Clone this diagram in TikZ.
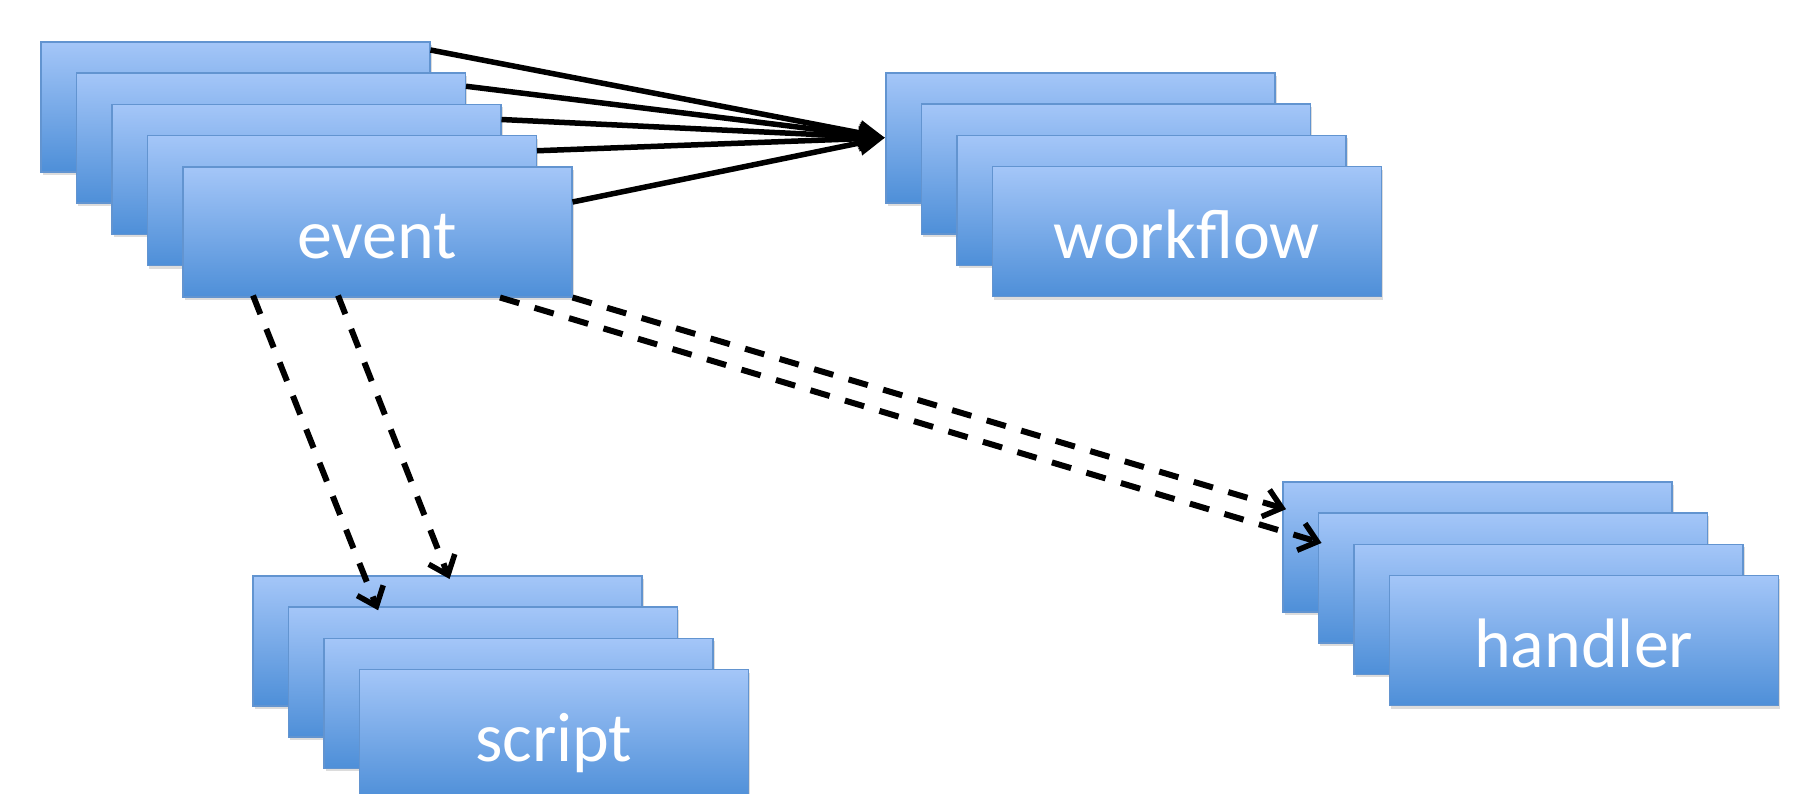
\documentclass[tikz,border=0pt]{standalone}
\usepackage{fontspec}
\setmainfont{Carlito}
\usetikzlibrary{arrows.meta,calc,shadows,decorations.markings}

\definecolor{boxtop}{RGB}{164,198,248}
\definecolor{boxbot}{RGB}{78,143,216}
\definecolor{boxline}{RGB}{98,148,208}

\tikzset{
  card/.style={draw=boxline, line width=1.5pt, top color=boxtop, bottom color=boxbot,
    minimum width=389pt, minimum height=130pt, inner sep=0pt, anchor=north west,
    text=white, font=\fontsize{70}{84}\selectfont, text height=53pt, text depth=0pt,
    drop shadow={shadow xshift=2pt, shadow yshift=-3pt, opacity=0.28}},
  feed/.style={line width=5.5pt, -{Triangle[length=26pt,width=24pt]}},
  % dashed connector with a solid open V head at its end
  call/.style={line width=6pt, dash pattern=on 20pt off 16pt,
    postaction={decorate, decoration={markings, mark=at position 1 with {
      \draw[solid, line width=5.5pt, line join=miter]
        (-17pt,-14pt) -- (0pt,0pt) -- (-17pt,14pt);}}}}
}

\begin{document}
\begin{tikzpicture}[x=1pt, y=-1pt]
\useasboundingbox (0,0) rectangle (1795,793);

% event stack
\node[card] (e1) at (40,41) {};
\node[card] (e2) at (75.5,72.25) {};
\node[card] (e3) at (111,103.5) {};
\node[card] (e4) at (146.5,134.75) {};
\node[card] (e5) at (182,166) {event};

% workflow stack
\node[card] (w1) at (885,72) {};
\node[card] (w2) at (920.5,103.25) {};
\node[card] (w3) at (956,134.5) {};
\node[card] (w4) at (991.5,165.75) {workflow};

% script stack
\node[card] (s1) at (252,575) {};
\node[card] (s2) at (287.5,606.25) {};
\node[card] (s3) at (323,637.5) {};
\node[card] (s4) at (358.5,668.75) {script};

% handler stack
\node[card] (h1) at (1282,481) {};
\node[card] (h2) at (1317.5,512.25) {};
\node[card] (h3) at (1353,543.5) {};
\node[card] (h4) at (1388.5,574.75) {handler};

% every event feeds the workflow
\draw[feed] ($(e1.north east)+(0,9)$)  -- (w1.west);
\draw[feed] ($(e2.north east)+(0,14)$) -- (w1.west);
\draw[feed] ($(e3.north east)+(0,16)$) -- (w1.west);
\draw[feed] ($(e4.north east)+(0,16)$) -- (w1.west);
\draw[feed] ($(e5.north east)+(0,36)$) -- (w1.west);

% events calling scripts
\draw[call] ($(e5.south west)+(71,-2)$)  -- ($(s2.north west)+(89,0)$);
\draw[call] ($(e5.south west)+(156,-2)$) -- ($(s1.north west)+(196,0)$);

% events calling handlers
\draw[call] ($(e5.south west)+(318,0)$) -- ($(h2.north west)+(0,29.5)$);
\draw[call] (e5.south east) -- ($(h1.north west)+(0,27)$);
\end{tikzpicture}
\end{document}
